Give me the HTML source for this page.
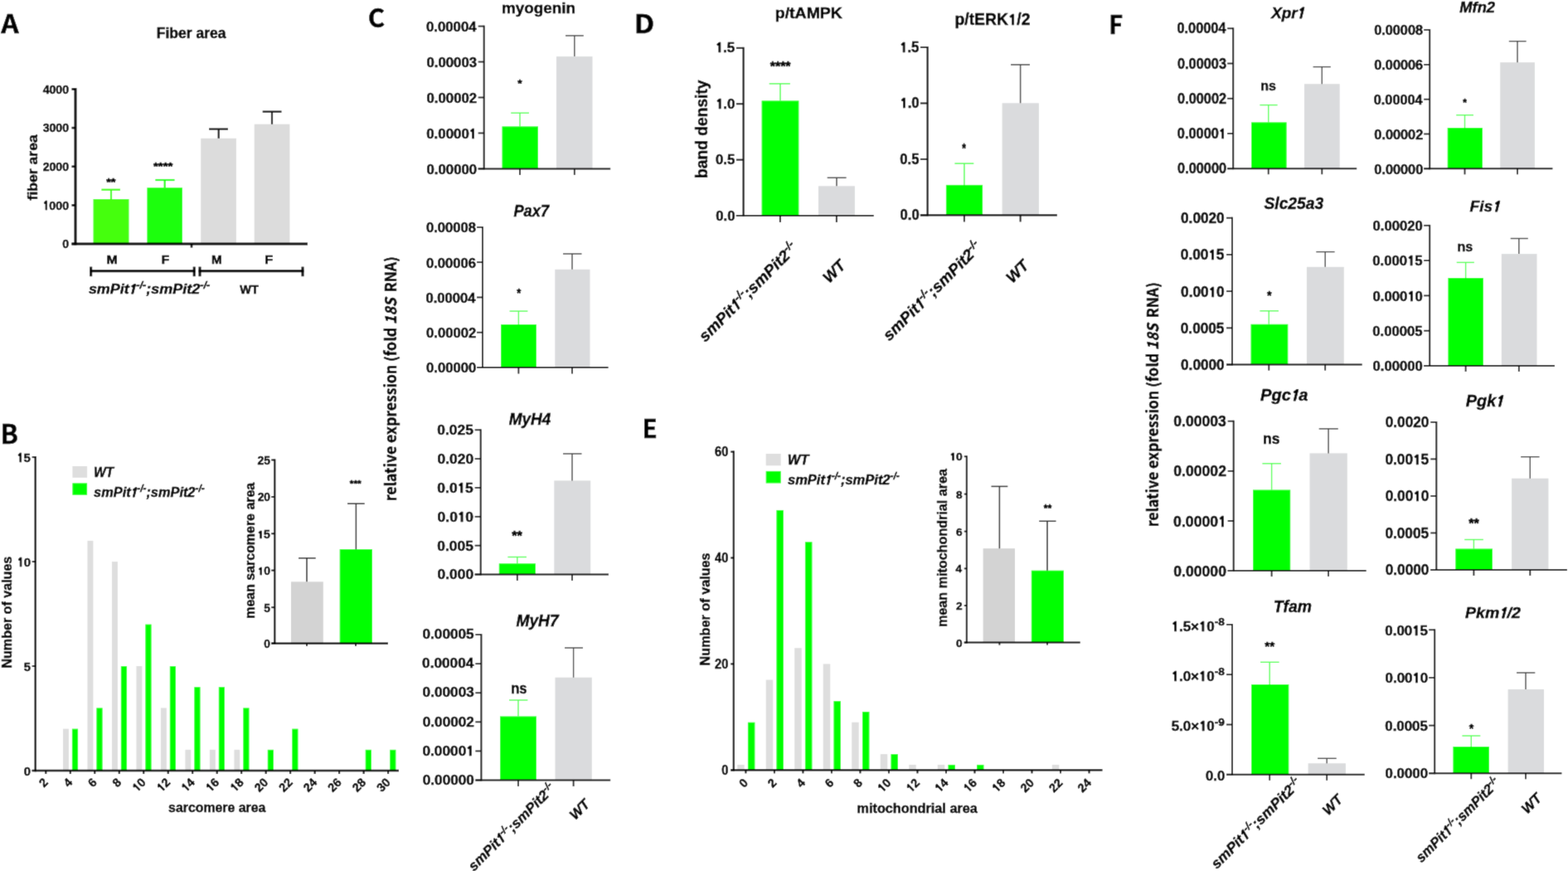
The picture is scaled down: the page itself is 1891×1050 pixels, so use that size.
<!DOCTYPE html>
<html><head><meta charset="utf-8"><style>
html,body{margin:0;padding:0;background:#fff;}
svg{display:block;}
text{font-family:'Liberation Sans',Arial,Helvetica,sans-serif;stroke:#000;stroke-width:0.45px;}
</style></head><body>
<svg width="1891" height="1050" viewBox="0 0 1891 1050">
<defs><filter id="soft" x="-0.01" y="-0.01" width="1.02" height="1.02"><feConvolveMatrix order="3" kernelMatrix="0.0114 0.0841 0.0114 0.0841 0.618 0.0841 0.0114 0.0841 0.0114" divisor="1" edgeMode="duplicate" preserveAlpha="true"/></filter></defs>
<rect width="1891" height="1050" fill="#fff"/>
<g filter="url(#soft)">
<rect x="-20" y="-20" width="1931" height="1090" fill="#fff"/>
<text x="1.37" y="40.25" style="font-size:31.49px;font-weight:bold;font-style:normal;font-family:'Noto Sans CJK JP',sans-serif" fill="#000" textLength="21.45" lengthAdjust="spacingAndGlyphs">A</text>
<text x="188.71" y="45.87" style="font-size:18.1px;font-weight:bold;font-style:normal" fill="#000" textLength="83.77" lengthAdjust="spacingAndGlyphs">Fiber area</text>
<rect x="112.5" y="240" width="43" height="54" fill="#44FF10"/>
<rect x="177.4" y="226.2" width="42.6" height="67.8" fill="#1CFF0A"/>
<rect x="242.2" y="166.8" width="42.7" height="127.2" fill="#DCDCDC"/>
<rect x="306.7" y="149.7" width="42.7" height="144.3" fill="#DCDCDC"/>
<line x1="134" y1="240" x2="134" y2="228.7" stroke="#44FF10" stroke-width="2.2" stroke-linecap="butt"/>
<line x1="122.4" y1="228.7" x2="145" y2="228.7" stroke="#44FF10" stroke-width="2.2" stroke-linecap="butt"/>
<line x1="198.7" y1="226.2" x2="198.7" y2="217" stroke="#1CFF0A" stroke-width="2.2" stroke-linecap="butt"/>
<line x1="187.4" y1="217" x2="210.5" y2="217" stroke="#1CFF0A" stroke-width="2.2" stroke-linecap="butt"/>
<line x1="263.7" y1="166.8" x2="263.7" y2="155.6" stroke="#111" stroke-width="2.2" stroke-linecap="butt"/>
<line x1="252" y1="155.6" x2="275" y2="155.6" stroke="#111" stroke-width="2.2" stroke-linecap="butt"/>
<line x1="328" y1="149.7" x2="328" y2="134.6" stroke="#111" stroke-width="2.2" stroke-linecap="butt"/>
<line x1="316.7" y1="134.6" x2="339.5" y2="134.6" stroke="#111" stroke-width="2.2" stroke-linecap="butt"/>
<line x1="91" y1="106.2" x2="91" y2="295.5" stroke="#000" stroke-width="3" stroke-linecap="butt"/>
<line x1="86.5" y1="107.5" x2="91" y2="107.5" stroke="#000" stroke-width="2.6" stroke-linecap="butt"/>
<line x1="86.5" y1="154.1" x2="91" y2="154.1" stroke="#000" stroke-width="2.6" stroke-linecap="butt"/>
<line x1="86.5" y1="200.8" x2="91" y2="200.8" stroke="#000" stroke-width="2.6" stroke-linecap="butt"/>
<line x1="86.5" y1="247.4" x2="91" y2="247.4" stroke="#000" stroke-width="2.6" stroke-linecap="butt"/>
<line x1="86.5" y1="294" x2="91" y2="294" stroke="#000" stroke-width="2.6" stroke-linecap="butt"/>
<line x1="86.5" y1="294" x2="371" y2="294" stroke="#000" stroke-width="3" stroke-linecap="butt"/>
<line x1="231" y1="294" x2="231" y2="298.5" stroke="#000" stroke-width="2.6" stroke-linecap="butt"/>
<text x="51.64" y="112.6" text-anchor="start" style="font-size:15.35px;font-weight:bold;font-style:normal" fill="#000" textLength="31.47" lengthAdjust="spacingAndGlyphs">4000</text>
<text x="51.64" y="159.2" text-anchor="start" style="font-size:15.35px;font-weight:bold;font-style:normal" fill="#000" textLength="31.47" lengthAdjust="spacingAndGlyphs">3000</text>
<text x="51.64" y="205.9" text-anchor="start" style="font-size:15.35px;font-weight:bold;font-style:normal" fill="#000" textLength="31.47" lengthAdjust="spacingAndGlyphs">2000</text>
<text x="51.64" y="252.5" text-anchor="start" style="font-size:15.35px;font-weight:bold;font-style:normal" fill="#000" textLength="31.47" lengthAdjust="spacingAndGlyphs"><tspan style="font-family:NanumGothic,sans-serif;font-weight:800;font-size:0.89em;stroke-width:0.7px">1</tspan>000</text>
<text x="75.26" y="299.1" text-anchor="start" style="font-size:15.35px;font-weight:bold;font-style:normal" fill="#000" textLength="7.87" lengthAdjust="spacingAndGlyphs">0</text>
<text transform="translate(45.08,241.41) rotate(-90)" style="font-size:16.87px;font-weight:bold;font-style:normal" fill="#000" textLength="79.13" lengthAdjust="spacingAndGlyphs">fiber area</text>
<text x="128.18" y="223.64" style="font-size:12.16px;font-weight:bold;font-style:normal;stroke-width:0.55px" fill="#000" textLength="11.32" lengthAdjust="spacingAndGlyphs">**</text>
<text x="184.97" y="204.64" style="font-size:12.16px;font-weight:bold;font-style:normal;stroke-width:0.55px" fill="#000" textLength="23.37" lengthAdjust="spacingAndGlyphs">****</text>
<text x="128.51" y="317.75" style="font-size:14.06px;font-weight:bold;font-style:normal" fill="#000" textLength="13.33" lengthAdjust="spacingAndGlyphs">M</text>
<text x="194.74" y="317.75" style="font-size:14.06px;font-weight:bold;font-style:normal" fill="#000" textLength="9.46" lengthAdjust="spacingAndGlyphs">F</text>
<text x="255.06" y="317.75" style="font-size:14.06px;font-weight:bold;font-style:normal" fill="#000" textLength="12.73" lengthAdjust="spacingAndGlyphs">M</text>
<text x="319.19" y="317.75" style="font-size:14.06px;font-weight:bold;font-style:normal" fill="#000" textLength="9.94" lengthAdjust="spacingAndGlyphs">F</text>
<line x1="108.2" y1="326.8" x2="235.6" y2="326.8" stroke="#000" stroke-width="3" stroke-linecap="butt"/>
<line x1="109.7" y1="321.6" x2="109.7" y2="333.2" stroke="#000" stroke-width="3" stroke-linecap="butt"/>
<line x1="234.2" y1="321.6" x2="234.2" y2="333.2" stroke="#000" stroke-width="3" stroke-linecap="butt"/>
<line x1="239.5" y1="326.8" x2="366.4" y2="326.8" stroke="#000" stroke-width="3" stroke-linecap="butt"/>
<line x1="241" y1="321.6" x2="241" y2="333.2" stroke="#000" stroke-width="3" stroke-linecap="butt"/>
<line x1="365" y1="321.6" x2="365" y2="333.2" stroke="#000" stroke-width="3" stroke-linecap="butt"/>
<text x="106.9" y="354.2" text-anchor="start" style="font-size:17px;font-weight:bold;font-style:italic" fill="#000" textLength="146.5" lengthAdjust="spacingAndGlyphs">smPit<tspan dx="-1.19" style="font-family:NanumGothic,sans-serif;font-weight:800;font-size:0.89em;stroke-width:0.7px">1</tspan><tspan dy="-6.29" style="font-size:12.24px">-/-</tspan><tspan dy="6.29">;smPit2</tspan><tspan dy="-6.29" style="font-size:12.24px">-/-</tspan></text>
<text x="289.25" y="354.35" style="font-size:15.36px;font-weight:bold;font-style:normal" fill="#000" textLength="22.64" lengthAdjust="spacingAndGlyphs">WT</text>
<text x="0.42" y="535.35" style="font-size:31.76px;font-weight:bold;font-style:normal;font-family:'Noto Sans CJK JP',sans-serif" fill="#000" textLength="21.42" lengthAdjust="spacingAndGlyphs">B</text>
<rect x="75.99" y="878.61" width="6.9" height="50.39" fill="#DEDEDE"/>
<rect x="105.47" y="651.87" width="6.9" height="277.13" fill="#DEDEDE"/>
<rect x="134.96" y="677.07" width="6.9" height="251.93" fill="#DEDEDE"/>
<rect x="164.44" y="803.03" width="6.9" height="125.97" fill="#DEDEDE"/>
<rect x="193.93" y="853.42" width="6.9" height="75.58" fill="#DEDEDE"/>
<rect x="223.41" y="903.81" width="6.9" height="25.19" fill="#DEDEDE"/>
<rect x="252.9" y="903.81" width="6.9" height="25.19" fill="#DEDEDE"/>
<rect x="282.39" y="903.81" width="6.9" height="25.19" fill="#DEDEDE"/>
<rect x="86.89" y="878.61" width="7.2" height="50.39" fill="#00FF00"/>
<rect x="116.37" y="853.42" width="7.2" height="75.58" fill="#00FF00"/>
<rect x="145.86" y="803.03" width="7.2" height="125.97" fill="#00FF00"/>
<rect x="175.34" y="752.65" width="7.2" height="176.35" fill="#00FF00"/>
<rect x="204.83" y="803.03" width="7.2" height="125.97" fill="#00FF00"/>
<rect x="234.31" y="828.23" width="7.2" height="100.77" fill="#00FF00"/>
<rect x="263.8" y="828.23" width="7.2" height="100.77" fill="#00FF00"/>
<rect x="293.29" y="853.42" width="7.2" height="75.58" fill="#00FF00"/>
<rect x="322.77" y="903.81" width="7.2" height="25.19" fill="#00FF00"/>
<rect x="352.26" y="878.61" width="7.2" height="50.39" fill="#00FF00"/>
<rect x="440.71" y="903.81" width="7.2" height="25.19" fill="#00FF00"/>
<rect x="470.2" y="903.81" width="7.2" height="25.19" fill="#00FF00"/>
<line x1="42.7" y1="550.1" x2="42.7" y2="930.15" stroke="#000" stroke-width="2.3" stroke-linecap="butt"/>
<line x1="38.7" y1="551.1" x2="42.7" y2="551.1" stroke="#000" stroke-width="2" stroke-linecap="butt"/>
<line x1="38.7" y1="677.07" x2="42.7" y2="677.07" stroke="#000" stroke-width="2" stroke-linecap="butt"/>
<line x1="38.7" y1="803.03" x2="42.7" y2="803.03" stroke="#000" stroke-width="2" stroke-linecap="butt"/>
<line x1="38.7" y1="929" x2="42.7" y2="929" stroke="#000" stroke-width="2" stroke-linecap="butt"/>
<line x1="38.7" y1="929" x2="481" y2="929" stroke="#000" stroke-width="2.3" stroke-linecap="butt"/>
<line x1="55.3" y1="929" x2="55.3" y2="933" stroke="#000" stroke-width="2" stroke-linecap="butt"/>
<line x1="84.79" y1="929" x2="84.79" y2="933" stroke="#000" stroke-width="2" stroke-linecap="butt"/>
<line x1="114.27" y1="929" x2="114.27" y2="933" stroke="#000" stroke-width="2" stroke-linecap="butt"/>
<line x1="143.76" y1="929" x2="143.76" y2="933" stroke="#000" stroke-width="2" stroke-linecap="butt"/>
<line x1="173.24" y1="929" x2="173.24" y2="933" stroke="#000" stroke-width="2" stroke-linecap="butt"/>
<line x1="202.73" y1="929" x2="202.73" y2="933" stroke="#000" stroke-width="2" stroke-linecap="butt"/>
<line x1="232.21" y1="929" x2="232.21" y2="933" stroke="#000" stroke-width="2" stroke-linecap="butt"/>
<line x1="261.7" y1="929" x2="261.7" y2="933" stroke="#000" stroke-width="2" stroke-linecap="butt"/>
<line x1="291.19" y1="929" x2="291.19" y2="933" stroke="#000" stroke-width="2" stroke-linecap="butt"/>
<line x1="320.67" y1="929" x2="320.67" y2="933" stroke="#000" stroke-width="2" stroke-linecap="butt"/>
<line x1="350.16" y1="929" x2="350.16" y2="933" stroke="#000" stroke-width="2" stroke-linecap="butt"/>
<line x1="379.64" y1="929" x2="379.64" y2="933" stroke="#000" stroke-width="2" stroke-linecap="butt"/>
<line x1="409.13" y1="929" x2="409.13" y2="933" stroke="#000" stroke-width="2" stroke-linecap="butt"/>
<line x1="438.61" y1="929" x2="438.61" y2="933" stroke="#000" stroke-width="2" stroke-linecap="butt"/>
<line x1="468.1" y1="929" x2="468.1" y2="933" stroke="#000" stroke-width="2" stroke-linecap="butt"/>
<text x="20.47" y="556.6" text-anchor="start" style="font-size:15px;font-weight:bold;font-style:normal" fill="#000" textLength="16.39" lengthAdjust="spacingAndGlyphs"><tspan style="font-family:NanumGothic,sans-serif;font-weight:800;font-size:0.89em;stroke-width:0.7px">1</tspan>5</text>
<text x="20.69" y="682.57" text-anchor="start" style="font-size:15px;font-weight:bold;font-style:normal" fill="#000" textLength="16.39" lengthAdjust="spacingAndGlyphs"><tspan style="font-family:NanumGothic,sans-serif;font-weight:800;font-size:0.89em;stroke-width:0.7px">1</tspan>0</text>
<text x="28.64" y="808.53" text-anchor="start" style="font-size:15px;font-weight:bold;font-style:normal" fill="#000" textLength="8.19" lengthAdjust="spacingAndGlyphs">5</text>
<text x="28.86" y="934.5" text-anchor="start" style="font-size:15px;font-weight:bold;font-style:normal" fill="#000" textLength="8.19" lengthAdjust="spacingAndGlyphs">0</text>
<text x="58.8" y="944" text-anchor="end" transform="rotate(-45 58.8 944)" style="font-size:14.5px;font-weight:bold;font-style:normal" fill="#000">2</text>
<text x="88.29" y="944" text-anchor="end" transform="rotate(-45 88.29 944)" style="font-size:14.5px;font-weight:bold;font-style:normal" fill="#000">4</text>
<text x="117.77" y="944" text-anchor="end" transform="rotate(-45 117.77 944)" style="font-size:14.5px;font-weight:bold;font-style:normal" fill="#000">6</text>
<text x="147.26" y="944" text-anchor="end" transform="rotate(-45 147.26 944)" style="font-size:14.5px;font-weight:bold;font-style:normal" fill="#000">8</text>
<text x="176.74" y="944" text-anchor="end" transform="rotate(-45 176.74 944)" style="font-size:14.5px;font-weight:bold;font-style:normal" fill="#000"><tspan style="font-family:NanumGothic,sans-serif;font-weight:800;font-size:0.89em;stroke-width:0.7px">1</tspan>0</text>
<text x="206.23" y="944" text-anchor="end" transform="rotate(-45 206.23 944)" style="font-size:14.5px;font-weight:bold;font-style:normal" fill="#000"><tspan style="font-family:NanumGothic,sans-serif;font-weight:800;font-size:0.89em;stroke-width:0.7px">1</tspan>2</text>
<text x="235.71" y="944" text-anchor="end" transform="rotate(-45 235.71 944)" style="font-size:14.5px;font-weight:bold;font-style:normal" fill="#000"><tspan style="font-family:NanumGothic,sans-serif;font-weight:800;font-size:0.89em;stroke-width:0.7px">1</tspan>4</text>
<text x="265.2" y="944" text-anchor="end" transform="rotate(-45 265.2 944)" style="font-size:14.5px;font-weight:bold;font-style:normal" fill="#000"><tspan style="font-family:NanumGothic,sans-serif;font-weight:800;font-size:0.89em;stroke-width:0.7px">1</tspan>6</text>
<text x="294.69" y="944" text-anchor="end" transform="rotate(-45 294.69 944)" style="font-size:14.5px;font-weight:bold;font-style:normal" fill="#000"><tspan style="font-family:NanumGothic,sans-serif;font-weight:800;font-size:0.89em;stroke-width:0.7px">1</tspan>8</text>
<text x="324.17" y="944" text-anchor="end" transform="rotate(-45 324.17 944)" style="font-size:14.5px;font-weight:bold;font-style:normal" fill="#000">20</text>
<text x="353.66" y="944" text-anchor="end" transform="rotate(-45 353.66 944)" style="font-size:14.5px;font-weight:bold;font-style:normal" fill="#000">22</text>
<text x="383.14" y="944" text-anchor="end" transform="rotate(-45 383.14 944)" style="font-size:14.5px;font-weight:bold;font-style:normal" fill="#000">24</text>
<text x="412.63" y="944" text-anchor="end" transform="rotate(-45 412.63 944)" style="font-size:14.5px;font-weight:bold;font-style:normal" fill="#000">26</text>
<text x="442.11" y="944" text-anchor="end" transform="rotate(-45 442.11 944)" style="font-size:14.5px;font-weight:bold;font-style:normal" fill="#000">28</text>
<text x="471.6" y="944" text-anchor="end" transform="rotate(-45 471.6 944)" style="font-size:14.5px;font-weight:bold;font-style:normal" fill="#000">30</text>
<text x="203.1" y="979.18" style="font-size:16.91px;font-weight:bold;font-style:normal" fill="#000" textLength="117.19" lengthAdjust="spacingAndGlyphs">sarcomere area</text>
<text transform="translate(13.99,805.6) rotate(-90)" style="font-size:15.65px;font-weight:bold;font-style:normal" fill="#000" textLength="134.91" lengthAdjust="spacingAndGlyphs">Number of values</text>
<rect x="87.4" y="562" width="17.7" height="13.8" fill="#DEDEDE"/>
<rect x="87.4" y="582.4" width="17.7" height="14.3" fill="#00FF00"/>
<text x="112.88" y="574.85" style="font-size:16.23px;font-weight:bold;font-style:italic" fill="#000" textLength="24.27" lengthAdjust="spacingAndGlyphs">WT</text>
<text x="113.1" y="598.8" text-anchor="start" style="font-size:16.5px;font-weight:bold;font-style:italic" fill="#000" textLength="133.5" lengthAdjust="spacingAndGlyphs">smPit<tspan dx="-1.16" style="font-family:NanumGothic,sans-serif;font-weight:800;font-size:0.89em;stroke-width:0.7px">1</tspan><tspan dy="-6.1" style="font-size:11.88px">-/-</tspan><tspan dy="6.1">;smPit2</tspan><tspan dy="-6.1" style="font-size:11.88px">-/-</tspan></text>
<rect x="351" y="701.3" width="38.8" height="74.3" fill="#D3D3D3"/>
<rect x="409.7" y="662.1" width="39.3" height="113.5" fill="#00FF00"/>
<line x1="370" y1="701.3" x2="370" y2="672.8" stroke="#222" stroke-width="1.5" stroke-linecap="butt"/>
<line x1="360" y1="672.8" x2="380.7" y2="672.8" stroke="#222" stroke-width="1.5" stroke-linecap="butt"/>
<line x1="429.4" y1="662.1" x2="429.4" y2="607.2" stroke="#222" stroke-width="1.5" stroke-linecap="butt"/>
<line x1="419" y1="607.2" x2="439.7" y2="607.2" stroke="#222" stroke-width="1.5" stroke-linecap="butt"/>
<line x1="331.3" y1="553.5" x2="331.3" y2="776.7" stroke="#000" stroke-width="2.2" stroke-linecap="butt"/>
<line x1="327.3" y1="554.5" x2="331.3" y2="554.5" stroke="#000" stroke-width="2" stroke-linecap="butt"/>
<line x1="327.3" y1="599" x2="331.3" y2="599" stroke="#000" stroke-width="2" stroke-linecap="butt"/>
<line x1="327.3" y1="643.3" x2="331.3" y2="643.3" stroke="#000" stroke-width="2" stroke-linecap="butt"/>
<line x1="327.3" y1="687.6" x2="331.3" y2="687.6" stroke="#000" stroke-width="2" stroke-linecap="butt"/>
<line x1="327.3" y1="732.2" x2="331.3" y2="732.2" stroke="#000" stroke-width="2" stroke-linecap="butt"/>
<line x1="327.3" y1="775.6" x2="331.3" y2="775.6" stroke="#000" stroke-width="2" stroke-linecap="butt"/>
<line x1="327.3" y1="775.6" x2="468" y2="775.6" stroke="#000" stroke-width="2.2" stroke-linecap="butt"/>
<line x1="370" y1="775.6" x2="370" y2="779.1" stroke="#000" stroke-width="2" stroke-linecap="butt"/>
<line x1="429" y1="775.6" x2="429" y2="779.1" stroke="#000" stroke-width="2" stroke-linecap="butt"/>
<text x="310.47" y="559.81" text-anchor="start" style="font-size:14.08px;font-weight:bold;font-style:normal" fill="#000" textLength="15.36" lengthAdjust="spacingAndGlyphs">25</text>
<text x="310.67" y="604.31" text-anchor="start" style="font-size:14.08px;font-weight:bold;font-style:normal" fill="#000" textLength="15.36" lengthAdjust="spacingAndGlyphs">20</text>
<text x="310.47" y="648.61" text-anchor="start" style="font-size:14.08px;font-weight:bold;font-style:normal" fill="#000" textLength="15.36" lengthAdjust="spacingAndGlyphs"><tspan style="font-family:NanumGothic,sans-serif;font-weight:800;font-size:0.89em;stroke-width:0.7px">1</tspan>5</text>
<text x="310.67" y="692.91" text-anchor="start" style="font-size:14.08px;font-weight:bold;font-style:normal" fill="#000" textLength="15.36" lengthAdjust="spacingAndGlyphs"><tspan style="font-family:NanumGothic,sans-serif;font-weight:800;font-size:0.89em;stroke-width:0.7px">1</tspan>0</text>
<text x="318.13" y="737.51" text-anchor="start" style="font-size:14.08px;font-weight:bold;font-style:normal" fill="#000" textLength="7.68" lengthAdjust="spacingAndGlyphs">5</text>
<text x="318.34" y="780.91" text-anchor="start" style="font-size:14.08px;font-weight:bold;font-style:normal" fill="#000" textLength="7.68" lengthAdjust="spacingAndGlyphs">0</text>
<text x="421.89" y="586.85" style="font-size:10px;font-weight:bold;font-style:normal;stroke-width:0.55px" fill="#000" textLength="13.89" lengthAdjust="spacingAndGlyphs">***</text>
<text transform="translate(306.79,745.69) rotate(-90)" style="font-size:16px;font-weight:bold;font-style:normal" fill="#000" textLength="163.87" lengthAdjust="spacingAndGlyphs">mean sarcomere area</text>
<text x="443.74" y="33.29" style="font-size:30.78px;font-weight:bold;font-style:normal;font-family:'Noto Sans CJK JP',sans-serif" fill="#000" textLength="20.42" lengthAdjust="spacingAndGlyphs">C</text>
<rect x="605.5" y="152.4" width="43.5" height="51" fill="#00FF00"/>
<rect x="671" y="68.1" width="43.5" height="135.3" fill="#DADBDD"/>
<line x1="627" y1="152.4" x2="627" y2="136.2" stroke="#55FF55" stroke-width="1.4" stroke-linecap="butt"/>
<line x1="616.2" y1="136.2" x2="638" y2="136.2" stroke="#55FF55" stroke-width="1.4" stroke-linecap="butt"/>
<line x1="692.8" y1="68.1" x2="692.8" y2="43" stroke="#444444" stroke-width="1.4" stroke-linecap="butt"/>
<line x1="682" y1="43" x2="703.8" y2="43" stroke="#444444" stroke-width="1.4" stroke-linecap="butt"/>
<line x1="583.7" y1="30.7" x2="583.7" y2="204.4" stroke="#111" stroke-width="2" stroke-linecap="butt"/>
<line x1="576.7" y1="31.6" x2="583.7" y2="31.6" stroke="#111" stroke-width="1.8" stroke-linecap="butt"/>
<line x1="576.7" y1="74.55" x2="583.7" y2="74.55" stroke="#111" stroke-width="1.8" stroke-linecap="butt"/>
<line x1="576.7" y1="117.5" x2="583.7" y2="117.5" stroke="#111" stroke-width="1.8" stroke-linecap="butt"/>
<line x1="576.7" y1="160.45" x2="583.7" y2="160.45" stroke="#111" stroke-width="1.8" stroke-linecap="butt"/>
<line x1="576.7" y1="203.4" x2="583.7" y2="203.4" stroke="#111" stroke-width="1.8" stroke-linecap="butt"/>
<line x1="576.7" y1="203.4" x2="736.2" y2="203.4" stroke="#111" stroke-width="2" stroke-linecap="butt"/>
<line x1="627" y1="203.4" x2="627" y2="210.9" stroke="#111" stroke-width="1.8" stroke-linecap="butt"/>
<line x1="692.8" y1="203.4" x2="692.8" y2="210.9" stroke="#111" stroke-width="1.8" stroke-linecap="butt"/>
<text x="513.88" y="37.98" text-anchor="start" style="font-size:17.18px;font-weight:bold;font-style:normal" fill="#000" textLength="60.75" lengthAdjust="spacingAndGlyphs">0.00004</text>
<text x="514.38" y="80.93" text-anchor="start" style="font-size:17.18px;font-weight:bold;font-style:normal" fill="#000" textLength="60.75" lengthAdjust="spacingAndGlyphs">0.00003</text>
<text x="514.47" y="123.88" text-anchor="start" style="font-size:17.18px;font-weight:bold;font-style:normal" fill="#000" textLength="60.75" lengthAdjust="spacingAndGlyphs">0.00002</text>
<text x="514.21" y="166.83" text-anchor="start" style="font-size:17.18px;font-weight:bold;font-style:normal" fill="#000" textLength="60.75" lengthAdjust="spacingAndGlyphs">0.0000<tspan style="font-family:NanumGothic,sans-serif;font-weight:800;font-size:0.89em;stroke-width:0.7px">1</tspan></text>
<text x="514.47" y="209.78" text-anchor="start" style="font-size:17.18px;font-weight:bold;font-style:normal" fill="#000" textLength="60.75" lengthAdjust="spacingAndGlyphs">0.00000</text>
<text x="624.18" y="104.57" style="font-size:13.51px;font-weight:bold;font-style:normal;stroke-width:0.55px" fill="#000" textLength="5.33" lengthAdjust="spacingAndGlyphs">*</text>
<text x="604.92" y="15.8" style="font-size:18.82px;font-weight:bold;font-style:normal" fill="#000" textLength="89.11" lengthAdjust="spacingAndGlyphs">myogenin</text>
<rect x="604" y="391.1" width="43" height="51.9" fill="#00FF00"/>
<rect x="669.3" y="324.8" width="42.2" height="118.2" fill="#DADBDD"/>
<line x1="625.4" y1="391.1" x2="625.4" y2="375.1" stroke="#55FF55" stroke-width="1.4" stroke-linecap="butt"/>
<line x1="614.6" y1="375.1" x2="636.4" y2="375.1" stroke="#55FF55" stroke-width="1.4" stroke-linecap="butt"/>
<line x1="690" y1="324.8" x2="690" y2="306" stroke="#444444" stroke-width="1.4" stroke-linecap="butt"/>
<line x1="679" y1="306" x2="701.5" y2="306" stroke="#444444" stroke-width="1.4" stroke-linecap="butt"/>
<line x1="582" y1="273" x2="582" y2="444" stroke="#111" stroke-width="2" stroke-linecap="butt"/>
<line x1="575" y1="273.9" x2="582" y2="273.9" stroke="#111" stroke-width="1.8" stroke-linecap="butt"/>
<line x1="575" y1="316.17" x2="582" y2="316.17" stroke="#111" stroke-width="1.8" stroke-linecap="butt"/>
<line x1="575" y1="358.45" x2="582" y2="358.45" stroke="#111" stroke-width="1.8" stroke-linecap="butt"/>
<line x1="575" y1="400.73" x2="582" y2="400.73" stroke="#111" stroke-width="1.8" stroke-linecap="butt"/>
<line x1="575" y1="443" x2="582" y2="443" stroke="#111" stroke-width="1.8" stroke-linecap="butt"/>
<line x1="575" y1="443" x2="733.5" y2="443" stroke="#111" stroke-width="2" stroke-linecap="butt"/>
<line x1="625.4" y1="443" x2="625.4" y2="450.5" stroke="#111" stroke-width="1.8" stroke-linecap="butt"/>
<line x1="690" y1="443" x2="690" y2="450.5" stroke="#111" stroke-width="1.8" stroke-linecap="butt"/>
<text x="513.88" y="280.28" text-anchor="start" style="font-size:17.18px;font-weight:bold;font-style:normal" fill="#000" textLength="60.16" lengthAdjust="spacingAndGlyphs">0.00008</text>
<text x="513.97" y="322.55" text-anchor="start" style="font-size:17.18px;font-weight:bold;font-style:normal" fill="#000" textLength="60.16" lengthAdjust="spacingAndGlyphs">0.00006</text>
<text x="513.47" y="364.83" text-anchor="start" style="font-size:17.18px;font-weight:bold;font-style:normal" fill="#000" textLength="60.16" lengthAdjust="spacingAndGlyphs">0.00004</text>
<text x="514.05" y="407.1" text-anchor="start" style="font-size:17.18px;font-weight:bold;font-style:normal" fill="#000" textLength="60.16" lengthAdjust="spacingAndGlyphs">0.00002</text>
<text x="514.05" y="449.38" text-anchor="start" style="font-size:17.18px;font-weight:bold;font-style:normal" fill="#000" textLength="60.16" lengthAdjust="spacingAndGlyphs">0.00000</text>
<text x="623.19" y="357.65" style="font-size:14.05px;font-weight:bold;font-style:normal;stroke-width:0.55px" fill="#000" textLength="5.02" lengthAdjust="spacingAndGlyphs">*</text>
<text x="619.38" y="261.25" style="font-size:19.71px;font-weight:bold;font-style:italic" fill="#000" textLength="42.74" lengthAdjust="spacingAndGlyphs">Pax7</text>
<rect x="601.8" y="679.3" width="44.2" height="13.2" fill="#00FF00"/>
<rect x="668.3" y="579.4" width="43.9" height="113.1" fill="#DADBDD"/>
<line x1="623.8" y1="679.3" x2="623.8" y2="671.5" stroke="#55FF55" stroke-width="1.4" stroke-linecap="butt"/>
<line x1="612.4" y1="671.5" x2="635" y2="671.5" stroke="#55FF55" stroke-width="1.4" stroke-linecap="butt"/>
<line x1="690" y1="579.4" x2="690" y2="547" stroke="#444444" stroke-width="1.4" stroke-linecap="butt"/>
<line x1="679" y1="547" x2="701.5" y2="547" stroke="#444444" stroke-width="1.4" stroke-linecap="butt"/>
<line x1="579.7" y1="517.4" x2="579.7" y2="693.5" stroke="#111" stroke-width="2" stroke-linecap="butt"/>
<line x1="572.7" y1="518.3" x2="579.7" y2="518.3" stroke="#111" stroke-width="1.8" stroke-linecap="butt"/>
<line x1="572.7" y1="553.14" x2="579.7" y2="553.14" stroke="#111" stroke-width="1.8" stroke-linecap="butt"/>
<line x1="572.7" y1="587.98" x2="579.7" y2="587.98" stroke="#111" stroke-width="1.8" stroke-linecap="butt"/>
<line x1="572.7" y1="622.82" x2="579.7" y2="622.82" stroke="#111" stroke-width="1.8" stroke-linecap="butt"/>
<line x1="572.7" y1="657.66" x2="579.7" y2="657.66" stroke="#111" stroke-width="1.8" stroke-linecap="butt"/>
<line x1="572.7" y1="692.5" x2="579.7" y2="692.5" stroke="#111" stroke-width="1.8" stroke-linecap="butt"/>
<line x1="572.7" y1="692.5" x2="734" y2="692.5" stroke="#111" stroke-width="2" stroke-linecap="butt"/>
<line x1="623.8" y1="692.5" x2="623.8" y2="700" stroke="#111" stroke-width="1.8" stroke-linecap="butt"/>
<line x1="690" y1="692.5" x2="690" y2="700" stroke="#111" stroke-width="1.8" stroke-linecap="butt"/>
<text x="527.36" y="524.18" text-anchor="start" style="font-size:17.18px;font-weight:bold;font-style:normal" fill="#000" textLength="43.47" lengthAdjust="spacingAndGlyphs">0.025</text>
<text x="527.62" y="559.02" text-anchor="start" style="font-size:17.18px;font-weight:bold;font-style:normal" fill="#000" textLength="43.47" lengthAdjust="spacingAndGlyphs">0.020</text>
<text x="527.36" y="593.86" text-anchor="start" style="font-size:17.18px;font-weight:bold;font-style:normal" fill="#000" textLength="43.47" lengthAdjust="spacingAndGlyphs">0.0<tspan style="font-family:NanumGothic,sans-serif;font-weight:800;font-size:0.89em;stroke-width:0.7px">1</tspan>5</text>
<text x="527.62" y="628.7" text-anchor="start" style="font-size:17.18px;font-weight:bold;font-style:normal" fill="#000" textLength="43.47" lengthAdjust="spacingAndGlyphs">0.0<tspan style="font-family:NanumGothic,sans-serif;font-weight:800;font-size:0.89em;stroke-width:0.7px">1</tspan>0</text>
<text x="527.36" y="663.54" text-anchor="start" style="font-size:17.18px;font-weight:bold;font-style:normal" fill="#000" textLength="43.47" lengthAdjust="spacingAndGlyphs">0.005</text>
<text x="527.62" y="698.38" text-anchor="start" style="font-size:17.18px;font-weight:bold;font-style:normal" fill="#000" textLength="43.47" lengthAdjust="spacingAndGlyphs">0.000</text>
<text x="617.17" y="652" style="font-size:17.03px;font-weight:bold;font-style:normal;stroke-width:0.55px" fill="#000" textLength="12.63" lengthAdjust="spacingAndGlyphs">**</text>
<text x="613.77" y="511.75" style="font-size:20.43px;font-weight:bold;font-style:italic" fill="#000" textLength="50.61" lengthAdjust="spacingAndGlyphs">MyH4</text>
<rect x="603" y="863.5" width="44" height="77" fill="#00FF00"/>
<rect x="669.5" y="816.7" width="44.3" height="123.8" fill="#DADBDD"/>
<line x1="625" y1="863.5" x2="625" y2="844" stroke="#55FF55" stroke-width="1.4" stroke-linecap="butt"/>
<line x1="614" y1="844" x2="636.4" y2="844" stroke="#55FF55" stroke-width="1.4" stroke-linecap="butt"/>
<line x1="691.6" y1="816.7" x2="691.6" y2="781" stroke="#444444" stroke-width="1.4" stroke-linecap="butt"/>
<line x1="681" y1="781" x2="703" y2="781" stroke="#444444" stroke-width="1.4" stroke-linecap="butt"/>
<line x1="580.4" y1="764.2" x2="580.4" y2="941.5" stroke="#111" stroke-width="2" stroke-linecap="butt"/>
<line x1="573.4" y1="765.1" x2="580.4" y2="765.1" stroke="#111" stroke-width="1.8" stroke-linecap="butt"/>
<line x1="573.4" y1="800.18" x2="580.4" y2="800.18" stroke="#111" stroke-width="1.8" stroke-linecap="butt"/>
<line x1="573.4" y1="835.26" x2="580.4" y2="835.26" stroke="#111" stroke-width="1.8" stroke-linecap="butt"/>
<line x1="573.4" y1="870.34" x2="580.4" y2="870.34" stroke="#111" stroke-width="1.8" stroke-linecap="butt"/>
<line x1="573.4" y1="905.42" x2="580.4" y2="905.42" stroke="#111" stroke-width="1.8" stroke-linecap="butt"/>
<line x1="573.4" y1="940.5" x2="580.4" y2="940.5" stroke="#111" stroke-width="1.8" stroke-linecap="butt"/>
<line x1="573.4" y1="940.5" x2="736.2" y2="940.5" stroke="#111" stroke-width="2" stroke-linecap="butt"/>
<line x1="625" y1="940.5" x2="625" y2="948" stroke="#111" stroke-width="1.8" stroke-linecap="butt"/>
<line x1="691.6" y1="940.5" x2="691.6" y2="948" stroke="#111" stroke-width="1.8" stroke-linecap="butt"/>
<text x="509.46" y="770.28" text-anchor="start" style="font-size:17.04px;font-weight:bold;font-style:normal" fill="#000" textLength="62.22" lengthAdjust="spacingAndGlyphs">0.00005</text>
<text x="509.12" y="805.36" text-anchor="start" style="font-size:17.04px;font-weight:bold;font-style:normal" fill="#000" textLength="62.22" lengthAdjust="spacingAndGlyphs">0.00004</text>
<text x="509.63" y="840.44" text-anchor="start" style="font-size:17.04px;font-weight:bold;font-style:normal" fill="#000" textLength="62.22" lengthAdjust="spacingAndGlyphs">0.00003</text>
<text x="509.72" y="875.52" text-anchor="start" style="font-size:17.04px;font-weight:bold;font-style:normal" fill="#000" textLength="62.22" lengthAdjust="spacingAndGlyphs">0.00002</text>
<text x="509.46" y="910.6" text-anchor="start" style="font-size:17.04px;font-weight:bold;font-style:normal" fill="#000" textLength="62.22" lengthAdjust="spacingAndGlyphs">0.0000<tspan style="font-family:NanumGothic,sans-serif;font-weight:800;font-size:0.89em;stroke-width:0.7px">1</tspan></text>
<text x="509.72" y="945.68" text-anchor="start" style="font-size:17.04px;font-weight:bold;font-style:normal" fill="#000" textLength="62.22" lengthAdjust="spacingAndGlyphs">0.00000</text>
<text x="616.16" y="836.07" style="font-size:17.64px;font-weight:bold;font-style:normal" fill="#000" textLength="19.49" lengthAdjust="spacingAndGlyphs">ns</text>
<text x="622.47" y="754.95" style="font-size:20.29px;font-weight:bold;font-style:italic" fill="#000" textLength="51.17" lengthAdjust="spacingAndGlyphs">MyH7</text>
<text x="671" y="951.4" text-anchor="end" transform="rotate(-45 671 951.4)" style="font-size:17px;font-weight:bold;font-style:italic" fill="#000" textLength="140.7" lengthAdjust="spacingAndGlyphs">smPit<tspan dx="-1.19" style="font-family:NanumGothic,sans-serif;font-weight:800;font-size:0.89em;stroke-width:0.7px">1</tspan><tspan dy="-6.29" style="font-size:12.24px">-/-</tspan><tspan dy="6.29">;smPit2</tspan><tspan dy="-6.29" style="font-size:12.24px">-/-</tspan></text>
<text x="712.4" y="970.6" text-anchor="end" transform="rotate(-45 712.4 970.6)" style="font-size:17px;font-weight:bold;font-style:italic" fill="#000">WT</text>
<text transform="translate(477.6,604.2) rotate(-90)" style="font-size:18.5px;font-weight:bold;font-family:&quot;Noto Sans CJK JP&quot;,sans-serif" textLength="295" lengthAdjust="spacingAndGlyphs">relative expression (fold <tspan font-style="italic">18S</tspan><tspan dx="3"> RNA)</tspan></text>
<text x="764.66" y="40.25" style="font-size:31.49px;font-weight:bold;font-style:normal;font-family:'Noto Sans CJK JP',sans-serif" fill="#000" textLength="24.55" lengthAdjust="spacingAndGlyphs">D</text>
<rect x="918.6" y="121.4" width="44.8" height="138.6" fill="#00FF00"/>
<rect x="987" y="224.3" width="43.9" height="35.7" fill="#DADBDD"/>
<line x1="941" y1="121.4" x2="941" y2="100.9" stroke="#55FF55" stroke-width="1.5" stroke-linecap="butt"/>
<line x1="927.7" y1="100.9" x2="952.9" y2="100.9" stroke="#55FF55" stroke-width="1.5" stroke-linecap="butt"/>
<line x1="1009" y1="224.3" x2="1009" y2="214.3" stroke="#444444" stroke-width="1.5" stroke-linecap="butt"/>
<line x1="997.7" y1="214.3" x2="1020.6" y2="214.3" stroke="#444444" stroke-width="1.5" stroke-linecap="butt"/>
<line x1="896.6" y1="56.85" x2="896.6" y2="261.1" stroke="#111" stroke-width="2.2" stroke-linecap="butt"/>
<line x1="887.9" y1="57.85" x2="896.6" y2="57.85" stroke="#111" stroke-width="2" stroke-linecap="butt"/>
<line x1="887.9" y1="125.23" x2="896.6" y2="125.23" stroke="#111" stroke-width="2" stroke-linecap="butt"/>
<line x1="887.9" y1="192.62" x2="896.6" y2="192.62" stroke="#111" stroke-width="2" stroke-linecap="butt"/>
<line x1="887.9" y1="260" x2="896.6" y2="260" stroke="#111" stroke-width="2" stroke-linecap="butt"/>
<line x1="887.9" y1="260" x2="1053.7" y2="260" stroke="#111" stroke-width="2.2" stroke-linecap="butt"/>
<line x1="940.9" y1="260" x2="940.9" y2="268" stroke="#111" stroke-width="2" stroke-linecap="butt"/>
<line x1="1008.9" y1="260" x2="1008.9" y2="268" stroke="#111" stroke-width="2" stroke-linecap="butt"/>
<text x="862.94" y="63.48" text-anchor="start" style="font-size:17.29px;font-weight:bold;font-style:normal" fill="#000" textLength="23.33" lengthAdjust="spacingAndGlyphs"><tspan style="font-family:NanumGothic,sans-serif;font-weight:800;font-size:0.89em;stroke-width:0.7px">1</tspan>.5</text>
<text x="863.19" y="130.86" text-anchor="start" style="font-size:17.29px;font-weight:bold;font-style:normal" fill="#000" textLength="23.33" lengthAdjust="spacingAndGlyphs"><tspan style="font-family:NanumGothic,sans-serif;font-weight:800;font-size:0.89em;stroke-width:0.7px">1</tspan>.0</text>
<text x="862.94" y="198.24" text-anchor="start" style="font-size:17.29px;font-weight:bold;font-style:normal" fill="#000" textLength="23.33" lengthAdjust="spacingAndGlyphs">0.5</text>
<text x="863.19" y="265.63" text-anchor="start" style="font-size:17.29px;font-weight:bold;font-style:normal" fill="#000" textLength="23.33" lengthAdjust="spacingAndGlyphs">0.0</text>
<text x="928.77" y="86.34" style="font-size:16.22px;font-weight:bold;font-style:normal;stroke-width:0.55px" fill="#000" textLength="24.78" lengthAdjust="spacingAndGlyphs">****</text>
<text x="934.78" y="21.88" style="font-size:18.52px;font-weight:bold;font-style:normal" fill="#000" textLength="81.18" lengthAdjust="spacingAndGlyphs">p/tAMPK</text>
<rect x="1140.9" y="222.9" width="44.2" height="36.5" fill="#00FF00"/>
<rect x="1208.6" y="124.3" width="44.3" height="135.1" fill="#DADBDD"/>
<line x1="1162.9" y1="222.9" x2="1162.9" y2="197.1" stroke="#55FF55" stroke-width="1.5" stroke-linecap="butt"/>
<line x1="1151.4" y1="197.1" x2="1174.3" y2="197.1" stroke="#55FF55" stroke-width="1.5" stroke-linecap="butt"/>
<line x1="1230.6" y1="124.3" x2="1230.6" y2="78" stroke="#444444" stroke-width="1.5" stroke-linecap="butt"/>
<line x1="1219" y1="78" x2="1242" y2="78" stroke="#444444" stroke-width="1.5" stroke-linecap="butt"/>
<line x1="1118.6" y1="56" x2="1118.6" y2="260.5" stroke="#111" stroke-width="2.2" stroke-linecap="butt"/>
<line x1="1109.9" y1="57" x2="1118.6" y2="57" stroke="#111" stroke-width="2" stroke-linecap="butt"/>
<line x1="1109.9" y1="124.47" x2="1118.6" y2="124.47" stroke="#111" stroke-width="2" stroke-linecap="butt"/>
<line x1="1109.9" y1="191.93" x2="1118.6" y2="191.93" stroke="#111" stroke-width="2" stroke-linecap="butt"/>
<line x1="1109.9" y1="259.4" x2="1118.6" y2="259.4" stroke="#111" stroke-width="2" stroke-linecap="butt"/>
<line x1="1109.9" y1="259.4" x2="1274.9" y2="259.4" stroke="#111" stroke-width="2.2" stroke-linecap="butt"/>
<line x1="1162.9" y1="259.4" x2="1162.9" y2="267.4" stroke="#111" stroke-width="2" stroke-linecap="butt"/>
<line x1="1230.6" y1="259.4" x2="1230.6" y2="267.4" stroke="#111" stroke-width="2" stroke-linecap="butt"/>
<text x="1085.35" y="62.57" text-anchor="start" style="font-size:17.86px;font-weight:bold;font-style:normal" fill="#000" textLength="23.12" lengthAdjust="spacingAndGlyphs"><tspan style="font-family:NanumGothic,sans-serif;font-weight:800;font-size:0.89em;stroke-width:0.7px">1</tspan>.5</text>
<text x="1085.6" y="130.04" text-anchor="start" style="font-size:17.86px;font-weight:bold;font-style:normal" fill="#000" textLength="23.12" lengthAdjust="spacingAndGlyphs"><tspan style="font-family:NanumGothic,sans-serif;font-weight:800;font-size:0.89em;stroke-width:0.7px">1</tspan>.0</text>
<text x="1085.35" y="197.5" text-anchor="start" style="font-size:17.86px;font-weight:bold;font-style:normal" fill="#000" textLength="23.12" lengthAdjust="spacingAndGlyphs">0.5</text>
<text x="1085.6" y="264.97" text-anchor="start" style="font-size:17.86px;font-weight:bold;font-style:normal" fill="#000" textLength="23.12" lengthAdjust="spacingAndGlyphs">0.0</text>
<text x="1160.19" y="184.77" style="font-size:15.68px;font-weight:bold;font-style:normal;stroke-width:0.55px" fill="#000" textLength="4.61" lengthAdjust="spacingAndGlyphs">*</text>
<text x="1151.5" y="29.86" style="font-size:19.33px;font-weight:bold;font-style:normal" fill="#000" textLength="90.99" lengthAdjust="spacingAndGlyphs">p/tERK<tspan style="font-family:NanumGothic,sans-serif;font-weight:800;font-size:0.89em;stroke-width:0.7px">1</tspan>/2</text>
<text transform="translate(853.28,214.9) rotate(-90)" style="font-size:19.36px;font-weight:bold;font-style:normal" fill="#000" textLength="118.39" lengthAdjust="spacingAndGlyphs">band density</text>
<text x="963.3" y="300.2" text-anchor="end" transform="rotate(-45 963.3 300.2)" style="font-size:19px;font-weight:bold;font-style:italic" fill="#000" textLength="159.5" lengthAdjust="spacingAndGlyphs">smPit<tspan dx="-1.33" style="font-family:NanumGothic,sans-serif;font-weight:800;font-size:0.89em;stroke-width:0.7px">1</tspan><tspan dy="-7.03" style="font-size:13.68px">-/-</tspan><tspan dy="7.03">;smPit2</tspan><tspan dy="-7.03" style="font-size:13.68px">-/-</tspan></text>
<text x="1020.9" y="321.4" text-anchor="end" transform="rotate(-45 1020.9 321.4)" style="font-size:19px;font-weight:bold;font-style:italic" fill="#000">WT</text>
<text x="1185.4" y="299" text-anchor="end" transform="rotate(-45 1185.4 299)" style="font-size:19px;font-weight:bold;font-style:italic" fill="#000" textLength="159.5" lengthAdjust="spacingAndGlyphs">smPit<tspan dx="-1.33" style="font-family:NanumGothic,sans-serif;font-weight:800;font-size:0.89em;stroke-width:0.7px">1</tspan><tspan dy="-7.03" style="font-size:13.68px">-/-</tspan><tspan dy="7.03">;smPit2</tspan><tspan dy="-7.03" style="font-size:13.68px">-/-</tspan></text>
<text x="1241.9" y="321.4" text-anchor="end" transform="rotate(-45 1241.9 321.4)" style="font-size:19px;font-weight:bold;font-style:italic" fill="#000">WT</text>
<text x="774.58" y="528.45" style="font-size:31.22px;font-weight:bold;font-style:normal;font-family:'Noto Sans CJK JP',sans-serif" fill="#000" textLength="18.25" lengthAdjust="spacingAndGlyphs">E</text>
<rect x="889.2" y="921.9" width="8.5" height="6.39" fill="#DEDEDE"/>
<rect x="923.71" y="819.59" width="8.5" height="108.71" fill="#DEDEDE"/>
<rect x="958.22" y="781.21" width="8.5" height="147.09" fill="#DEDEDE"/>
<rect x="992.72" y="800.4" width="8.5" height="127.9" fill="#DEDEDE"/>
<rect x="1027.23" y="870.75" width="8.5" height="57.55" fill="#DEDEDE"/>
<rect x="1061.74" y="909.12" width="8.5" height="19.18" fill="#DEDEDE"/>
<rect x="1096.25" y="921.9" width="8.5" height="6.39" fill="#DEDEDE"/>
<rect x="1130.76" y="921.9" width="8.5" height="6.39" fill="#DEDEDE"/>
<rect x="1268.79" y="921.9" width="8.5" height="6.39" fill="#DEDEDE"/>
<rect x="901.9" y="870.75" width="8.5" height="57.55" fill="#00FF00"/>
<rect x="936.41" y="614.94" width="8.5" height="313.36" fill="#00FF00"/>
<rect x="970.92" y="653.32" width="8.5" height="274.98" fill="#00FF00"/>
<rect x="1005.42" y="845.16" width="8.5" height="83.13" fill="#00FF00"/>
<rect x="1039.93" y="857.95" width="8.5" height="70.35" fill="#00FF00"/>
<rect x="1074.44" y="909.12" width="8.5" height="19.18" fill="#00FF00"/>
<rect x="1143.46" y="921.9" width="8.5" height="6.39" fill="#00FF00"/>
<rect x="1177.97" y="921.9" width="8.5" height="6.39" fill="#00FF00"/>
<line x1="884.8" y1="543.6" x2="884.8" y2="929.4" stroke="#000" stroke-width="2.2" stroke-linecap="butt"/>
<line x1="881.2" y1="544.6" x2="884.8" y2="544.6" stroke="#000" stroke-width="2" stroke-linecap="butt"/>
<line x1="881.2" y1="672.5" x2="884.8" y2="672.5" stroke="#000" stroke-width="2" stroke-linecap="butt"/>
<line x1="881.2" y1="800.4" x2="884.8" y2="800.4" stroke="#000" stroke-width="2" stroke-linecap="butt"/>
<line x1="881.2" y1="928.3" x2="884.8" y2="928.3" stroke="#000" stroke-width="2" stroke-linecap="butt"/>
<line x1="881.2" y1="928.3" x2="1329.5" y2="928.3" stroke="#000" stroke-width="2.2" stroke-linecap="butt"/>
<line x1="899.4" y1="928.3" x2="899.4" y2="932.3" stroke="#000" stroke-width="2" stroke-linecap="butt"/>
<line x1="933.91" y1="928.3" x2="933.91" y2="932.3" stroke="#000" stroke-width="2" stroke-linecap="butt"/>
<line x1="968.42" y1="928.3" x2="968.42" y2="932.3" stroke="#000" stroke-width="2" stroke-linecap="butt"/>
<line x1="1002.92" y1="928.3" x2="1002.92" y2="932.3" stroke="#000" stroke-width="2" stroke-linecap="butt"/>
<line x1="1037.43" y1="928.3" x2="1037.43" y2="932.3" stroke="#000" stroke-width="2" stroke-linecap="butt"/>
<line x1="1071.94" y1="928.3" x2="1071.94" y2="932.3" stroke="#000" stroke-width="2" stroke-linecap="butt"/>
<line x1="1106.45" y1="928.3" x2="1106.45" y2="932.3" stroke="#000" stroke-width="2" stroke-linecap="butt"/>
<line x1="1140.96" y1="928.3" x2="1140.96" y2="932.3" stroke="#000" stroke-width="2" stroke-linecap="butt"/>
<line x1="1175.47" y1="928.3" x2="1175.47" y2="932.3" stroke="#000" stroke-width="2" stroke-linecap="butt"/>
<line x1="1209.97" y1="928.3" x2="1209.97" y2="932.3" stroke="#000" stroke-width="2" stroke-linecap="butt"/>
<line x1="1244.48" y1="928.3" x2="1244.48" y2="932.3" stroke="#000" stroke-width="2" stroke-linecap="butt"/>
<line x1="1278.99" y1="928.3" x2="1278.99" y2="932.3" stroke="#000" stroke-width="2" stroke-linecap="butt"/>
<line x1="1313.5" y1="928.3" x2="1313.5" y2="932.3" stroke="#000" stroke-width="2" stroke-linecap="butt"/>
<text x="862.04" y="549.89" text-anchor="start" style="font-size:15.77px;font-weight:bold;font-style:normal" fill="#000" textLength="16.34" lengthAdjust="spacingAndGlyphs">60</text>
<text x="862.04" y="677.79" text-anchor="start" style="font-size:15.77px;font-weight:bold;font-style:normal" fill="#000" textLength="16.34" lengthAdjust="spacingAndGlyphs">40</text>
<text x="862.04" y="805.69" text-anchor="start" style="font-size:15.77px;font-weight:bold;font-style:normal" fill="#000" textLength="16.34" lengthAdjust="spacingAndGlyphs">20</text>
<text x="870.19" y="933.59" text-anchor="start" style="font-size:15.77px;font-weight:bold;font-style:normal" fill="#000" textLength="8.17" lengthAdjust="spacingAndGlyphs">0</text>
<text x="902.9" y="944.5" text-anchor="end" transform="rotate(-45 902.9 944.5)" style="font-size:14.5px;font-weight:bold;font-style:normal" fill="#000">0</text>
<text x="937.41" y="944.5" text-anchor="end" transform="rotate(-45 937.41 944.5)" style="font-size:14.5px;font-weight:bold;font-style:normal" fill="#000">2</text>
<text x="971.92" y="944.5" text-anchor="end" transform="rotate(-45 971.92 944.5)" style="font-size:14.5px;font-weight:bold;font-style:normal" fill="#000">4</text>
<text x="1006.42" y="944.5" text-anchor="end" transform="rotate(-45 1006.42 944.5)" style="font-size:14.5px;font-weight:bold;font-style:normal" fill="#000">6</text>
<text x="1040.93" y="944.5" text-anchor="end" transform="rotate(-45 1040.93 944.5)" style="font-size:14.5px;font-weight:bold;font-style:normal" fill="#000">8</text>
<text x="1075.44" y="944.5" text-anchor="end" transform="rotate(-45 1075.44 944.5)" style="font-size:14.5px;font-weight:bold;font-style:normal" fill="#000"><tspan style="font-family:NanumGothic,sans-serif;font-weight:800;font-size:0.89em;stroke-width:0.7px">1</tspan>0</text>
<text x="1109.95" y="944.5" text-anchor="end" transform="rotate(-45 1109.95 944.5)" style="font-size:14.5px;font-weight:bold;font-style:normal" fill="#000"><tspan style="font-family:NanumGothic,sans-serif;font-weight:800;font-size:0.89em;stroke-width:0.7px">1</tspan>2</text>
<text x="1144.46" y="944.5" text-anchor="end" transform="rotate(-45 1144.46 944.5)" style="font-size:14.5px;font-weight:bold;font-style:normal" fill="#000"><tspan style="font-family:NanumGothic,sans-serif;font-weight:800;font-size:0.89em;stroke-width:0.7px">1</tspan>4</text>
<text x="1178.97" y="944.5" text-anchor="end" transform="rotate(-45 1178.97 944.5)" style="font-size:14.5px;font-weight:bold;font-style:normal" fill="#000"><tspan style="font-family:NanumGothic,sans-serif;font-weight:800;font-size:0.89em;stroke-width:0.7px">1</tspan>6</text>
<text x="1213.47" y="944.5" text-anchor="end" transform="rotate(-45 1213.47 944.5)" style="font-size:14.5px;font-weight:bold;font-style:normal" fill="#000"><tspan style="font-family:NanumGothic,sans-serif;font-weight:800;font-size:0.89em;stroke-width:0.7px">1</tspan>8</text>
<text x="1247.98" y="944.5" text-anchor="end" transform="rotate(-45 1247.98 944.5)" style="font-size:14.5px;font-weight:bold;font-style:normal" fill="#000">20</text>
<text x="1282.49" y="944.5" text-anchor="end" transform="rotate(-45 1282.49 944.5)" style="font-size:14.5px;font-weight:bold;font-style:normal" fill="#000">22</text>
<text x="1317" y="944.5" text-anchor="end" transform="rotate(-45 1317 944.5)" style="font-size:14.5px;font-weight:bold;font-style:normal" fill="#000">24</text>
<text x="1033.59" y="980.08" style="font-size:16.73px;font-weight:bold;font-style:normal" fill="#000" textLength="145.22" lengthAdjust="spacingAndGlyphs">mitochondrial area</text>
<text transform="translate(855.79,802.4) rotate(-90)" style="font-size:16.05px;font-weight:bold;font-style:normal" fill="#000" textLength="136.02" lengthAdjust="spacingAndGlyphs">Number of values</text>
<rect x="923.7" y="547" width="18" height="14.3" fill="#DEDEDE"/>
<rect x="923.7" y="567.9" width="18" height="14.6" fill="#00FF00"/>
<text x="949.72" y="560.25" style="font-size:16.96px;font-weight:bold;font-style:italic" fill="#000" textLength="25.58" lengthAdjust="spacingAndGlyphs">WT</text>
<text x="950" y="584.3" text-anchor="start" style="font-size:16.5px;font-weight:bold;font-style:italic" fill="#000" textLength="134.8" lengthAdjust="spacingAndGlyphs">smPit<tspan dx="-1.16" style="font-family:NanumGothic,sans-serif;font-weight:800;font-size:0.89em;stroke-width:0.7px">1</tspan><tspan dy="-6.1" style="font-size:11.88px">-/-</tspan><tspan dy="6.1">;smPit2</tspan><tspan dy="-6.1" style="font-size:11.88px">-/-</tspan></text>
<rect x="1185.6" y="661.2" width="38.4" height="113.4" fill="#D3D3D3"/>
<rect x="1243.8" y="687.7" width="39.1" height="86.9" fill="#00FF00"/>
<line x1="1205.4" y1="661.2" x2="1205.4" y2="586.4" stroke="#222" stroke-width="1.5" stroke-linecap="butt"/>
<line x1="1195.5" y1="586.4" x2="1215.3" y2="586.4" stroke="#222" stroke-width="1.5" stroke-linecap="butt"/>
<line x1="1263" y1="687.7" x2="1263" y2="628.3" stroke="#222" stroke-width="1.5" stroke-linecap="butt"/>
<line x1="1253.2" y1="628.3" x2="1273.5" y2="628.3" stroke="#222" stroke-width="1.5" stroke-linecap="butt"/>
<line x1="1165.8" y1="549.4" x2="1165.8" y2="775.6" stroke="#000" stroke-width="2" stroke-linecap="butt"/>
<line x1="1162.8" y1="550.3" x2="1165.8" y2="550.3" stroke="#000" stroke-width="1.8" stroke-linecap="butt"/>
<line x1="1162.8" y1="595.6" x2="1165.8" y2="595.6" stroke="#000" stroke-width="1.8" stroke-linecap="butt"/>
<line x1="1162.8" y1="640.6" x2="1165.8" y2="640.6" stroke="#000" stroke-width="1.8" stroke-linecap="butt"/>
<line x1="1162.8" y1="685.4" x2="1165.8" y2="685.4" stroke="#000" stroke-width="1.8" stroke-linecap="butt"/>
<line x1="1162.8" y1="730" x2="1165.8" y2="730" stroke="#000" stroke-width="1.8" stroke-linecap="butt"/>
<line x1="1162.8" y1="774.6" x2="1165.8" y2="774.6" stroke="#000" stroke-width="1.8" stroke-linecap="butt"/>
<line x1="1162.8" y1="774.6" x2="1302.7" y2="774.6" stroke="#000" stroke-width="2" stroke-linecap="butt"/>
<line x1="1205.4" y1="774.6" x2="1205.4" y2="777.6" stroke="#000" stroke-width="1.8" stroke-linecap="butt"/>
<line x1="1263" y1="774.6" x2="1263" y2="777.6" stroke="#000" stroke-width="1.8" stroke-linecap="butt"/>
<text x="1145.53" y="555.22" text-anchor="start" style="font-size:13.38px;font-weight:bold;font-style:normal" fill="#000" textLength="15.2" lengthAdjust="spacingAndGlyphs"><tspan style="font-family:NanumGothic,sans-serif;font-weight:800;font-size:0.89em;stroke-width:0.7px">1</tspan>0</text>
<text x="1152.98" y="600.52" text-anchor="start" style="font-size:13.38px;font-weight:bold;font-style:normal" fill="#000" textLength="7.6" lengthAdjust="spacingAndGlyphs">8</text>
<text x="1153.05" y="645.52" text-anchor="start" style="font-size:13.38px;font-weight:bold;font-style:normal" fill="#000" textLength="7.6" lengthAdjust="spacingAndGlyphs">6</text>
<text x="1152.64" y="690.32" text-anchor="start" style="font-size:13.38px;font-weight:bold;font-style:normal" fill="#000" textLength="7.6" lengthAdjust="spacingAndGlyphs">4</text>
<text x="1153.11" y="734.92" text-anchor="start" style="font-size:13.38px;font-weight:bold;font-style:normal" fill="#000" textLength="7.6" lengthAdjust="spacingAndGlyphs">2</text>
<text x="1153.11" y="779.52" text-anchor="start" style="font-size:13.38px;font-weight:bold;font-style:normal" fill="#000" textLength="7.6" lengthAdjust="spacingAndGlyphs">0</text>
<text x="1258.79" y="617.34" style="font-size:12.16px;font-weight:bold;font-style:normal;stroke-width:0.55px" fill="#000" textLength="9.5" lengthAdjust="spacingAndGlyphs">**</text>
<text transform="translate(1141.59,756) rotate(-90)" style="font-size:16.19px;font-weight:bold;font-style:normal" fill="#000" textLength="191.02" lengthAdjust="spacingAndGlyphs">mean mitochondrial area</text>
<text x="1337.34" y="41.35" style="font-size:31.22px;font-weight:bold;font-style:normal;font-family:'Noto Sans CJK JP',sans-serif" fill="#000" textLength="16.97" lengthAdjust="spacingAndGlyphs">F</text>
<rect x="1509.1" y="147.4" width="42.5" height="55.8" fill="#00FF00"/>
<rect x="1573" y="101.2" width="42.7" height="102" fill="#DADBDD"/>
<line x1="1529.7" y1="147.4" x2="1529.7" y2="126.6" stroke="#55FF55" stroke-width="1.4" stroke-linecap="butt"/>
<line x1="1519.4" y1="126.6" x2="1540.6" y2="126.6" stroke="#55FF55" stroke-width="1.4" stroke-linecap="butt"/>
<line x1="1594.3" y1="101.2" x2="1594.3" y2="80.6" stroke="#444444" stroke-width="1.4" stroke-linecap="butt"/>
<line x1="1583.6" y1="80.6" x2="1604.8" y2="80.6" stroke="#444444" stroke-width="1.4" stroke-linecap="butt"/>
<line x1="1487.2" y1="33.4" x2="1487.2" y2="204.2" stroke="#111" stroke-width="2" stroke-linecap="butt"/>
<line x1="1480.2" y1="34.3" x2="1487.2" y2="34.3" stroke="#111" stroke-width="1.8" stroke-linecap="butt"/>
<line x1="1480.2" y1="76.52" x2="1487.2" y2="76.52" stroke="#111" stroke-width="1.8" stroke-linecap="butt"/>
<line x1="1480.2" y1="118.75" x2="1487.2" y2="118.75" stroke="#111" stroke-width="1.8" stroke-linecap="butt"/>
<line x1="1480.2" y1="160.97" x2="1487.2" y2="160.97" stroke="#111" stroke-width="1.8" stroke-linecap="butt"/>
<line x1="1480.2" y1="203.2" x2="1487.2" y2="203.2" stroke="#111" stroke-width="1.8" stroke-linecap="butt"/>
<line x1="1480.2" y1="203.2" x2="1636.2" y2="203.2" stroke="#111" stroke-width="2" stroke-linecap="butt"/>
<line x1="1529.7" y1="203.2" x2="1529.7" y2="210.2" stroke="#111" stroke-width="1.8" stroke-linecap="butt"/>
<line x1="1594.3" y1="203.2" x2="1594.3" y2="210.2" stroke="#111" stroke-width="1.8" stroke-linecap="butt"/>
<text x="1419.5" y="40.38" text-anchor="start" style="font-size:17.46px;font-weight:bold;font-style:normal" fill="#000" textLength="59.03" lengthAdjust="spacingAndGlyphs">0.00004</text>
<text x="1419.99" y="82.6" text-anchor="start" style="font-size:17.46px;font-weight:bold;font-style:normal" fill="#000" textLength="59.03" lengthAdjust="spacingAndGlyphs">0.00003</text>
<text x="1420.07" y="124.83" text-anchor="start" style="font-size:17.46px;font-weight:bold;font-style:normal" fill="#000" textLength="59.03" lengthAdjust="spacingAndGlyphs">0.00002</text>
<text x="1419.82" y="167.05" text-anchor="start" style="font-size:17.46px;font-weight:bold;font-style:normal" fill="#000" textLength="59.03" lengthAdjust="spacingAndGlyphs">0.0000<tspan style="font-family:NanumGothic,sans-serif;font-weight:800;font-size:0.89em;stroke-width:0.7px">1</tspan></text>
<text x="1420.07" y="209.28" text-anchor="start" style="font-size:17.46px;font-weight:bold;font-style:normal" fill="#000" textLength="59.03" lengthAdjust="spacingAndGlyphs">0.00000</text>
<text x="1520.21" y="108.59" style="font-size:16.18px;font-weight:bold;font-style:normal" fill="#000" textLength="18.72" lengthAdjust="spacingAndGlyphs">ns</text>
<text x="1533.17" y="22.25" style="font-size:19.28px;font-weight:bold;font-style:italic" fill="#000" textLength="40.34" lengthAdjust="spacingAndGlyphs">Xpr<tspan dx="-1.35" style="font-family:NanumGothic,sans-serif;font-weight:800;font-size:0.89em;stroke-width:0.7px">1</tspan></text>
<rect x="1745.7" y="154" width="42.3" height="49.3" fill="#00FF00"/>
<rect x="1809.2" y="75.2" width="41.7" height="128.1" fill="#DADBDD"/>
<line x1="1766.5" y1="154" x2="1766.5" y2="138.7" stroke="#55FF55" stroke-width="1.4" stroke-linecap="butt"/>
<line x1="1756.2" y1="138.7" x2="1777" y2="138.7" stroke="#55FF55" stroke-width="1.4" stroke-linecap="butt"/>
<line x1="1830" y1="75.2" x2="1830" y2="49.7" stroke="#444444" stroke-width="1.4" stroke-linecap="butt"/>
<line x1="1819.8" y1="49.7" x2="1840.6" y2="49.7" stroke="#444444" stroke-width="1.4" stroke-linecap="butt"/>
<line x1="1724.2" y1="35.2" x2="1724.2" y2="204.3" stroke="#111" stroke-width="2" stroke-linecap="butt"/>
<line x1="1717.2" y1="36.1" x2="1724.2" y2="36.1" stroke="#111" stroke-width="1.8" stroke-linecap="butt"/>
<line x1="1717.2" y1="77.9" x2="1724.2" y2="77.9" stroke="#111" stroke-width="1.8" stroke-linecap="butt"/>
<line x1="1717.2" y1="119.7" x2="1724.2" y2="119.7" stroke="#111" stroke-width="1.8" stroke-linecap="butt"/>
<line x1="1717.2" y1="161.5" x2="1724.2" y2="161.5" stroke="#111" stroke-width="1.8" stroke-linecap="butt"/>
<line x1="1717.2" y1="203.3" x2="1724.2" y2="203.3" stroke="#111" stroke-width="1.8" stroke-linecap="butt"/>
<line x1="1717.2" y1="203.3" x2="1872.4" y2="203.3" stroke="#111" stroke-width="2" stroke-linecap="butt"/>
<line x1="1766.5" y1="203.3" x2="1766.5" y2="210.3" stroke="#111" stroke-width="1.8" stroke-linecap="butt"/>
<line x1="1830" y1="203.3" x2="1830" y2="210.3" stroke="#111" stroke-width="1.8" stroke-linecap="butt"/>
<text x="1657.2" y="42.39" text-anchor="start" style="font-size:16.48px;font-weight:bold;font-style:normal" fill="#000" textLength="58.84" lengthAdjust="spacingAndGlyphs">0.00008</text>
<text x="1657.28" y="84.19" text-anchor="start" style="font-size:16.48px;font-weight:bold;font-style:normal" fill="#000" textLength="58.84" lengthAdjust="spacingAndGlyphs">0.00006</text>
<text x="1656.79" y="125.99" text-anchor="start" style="font-size:16.48px;font-weight:bold;font-style:normal" fill="#000" textLength="58.84" lengthAdjust="spacingAndGlyphs">0.00004</text>
<text x="1657.36" y="167.79" text-anchor="start" style="font-size:16.48px;font-weight:bold;font-style:normal" fill="#000" textLength="58.84" lengthAdjust="spacingAndGlyphs">0.00002</text>
<text x="1657.36" y="209.59" text-anchor="start" style="font-size:16.48px;font-weight:bold;font-style:normal" fill="#000" textLength="58.84" lengthAdjust="spacingAndGlyphs">0.00000</text>
<text x="1764.19" y="127.87" style="font-size:13.51px;font-weight:bold;font-style:normal;stroke-width:0.55px" fill="#000" textLength="4.61" lengthAdjust="spacingAndGlyphs">*</text>
<text x="1760.28" y="14.55" style="font-size:18.07px;font-weight:bold;font-style:italic" fill="#000" textLength="42.81" lengthAdjust="spacingAndGlyphs">Mfn2</text>
<rect x="1508.5" y="390.8" width="44.8" height="48.8" fill="#00FF00"/>
<rect x="1575.9" y="321.8" width="44.9" height="117.8" fill="#DADBDD"/>
<line x1="1530.3" y1="390.8" x2="1530.3" y2="374.8" stroke="#55FF55" stroke-width="1.4" stroke-linecap="butt"/>
<line x1="1519.4" y1="374.8" x2="1542" y2="374.8" stroke="#55FF55" stroke-width="1.4" stroke-linecap="butt"/>
<line x1="1598.2" y1="321.8" x2="1598.2" y2="303.6" stroke="#444444" stroke-width="1.4" stroke-linecap="butt"/>
<line x1="1587.3" y1="303.6" x2="1609.6" y2="303.6" stroke="#444444" stroke-width="1.4" stroke-linecap="butt"/>
<line x1="1486" y1="261.8" x2="1486" y2="440.6" stroke="#111" stroke-width="2" stroke-linecap="butt"/>
<line x1="1479" y1="262.7" x2="1486" y2="262.7" stroke="#111" stroke-width="1.8" stroke-linecap="butt"/>
<line x1="1479" y1="306.93" x2="1486" y2="306.93" stroke="#111" stroke-width="1.8" stroke-linecap="butt"/>
<line x1="1479" y1="351.15" x2="1486" y2="351.15" stroke="#111" stroke-width="1.8" stroke-linecap="butt"/>
<line x1="1479" y1="395.38" x2="1486" y2="395.38" stroke="#111" stroke-width="1.8" stroke-linecap="butt"/>
<line x1="1479" y1="439.6" x2="1486" y2="439.6" stroke="#111" stroke-width="1.8" stroke-linecap="butt"/>
<line x1="1479" y1="439.6" x2="1642.7" y2="439.6" stroke="#111" stroke-width="2" stroke-linecap="butt"/>
<line x1="1530.3" y1="439.6" x2="1530.3" y2="446.6" stroke="#111" stroke-width="1.8" stroke-linecap="butt"/>
<line x1="1598.2" y1="439.6" x2="1598.2" y2="446.6" stroke="#111" stroke-width="1.8" stroke-linecap="butt"/>
<text x="1424.06" y="269.08" text-anchor="start" style="font-size:17.46px;font-weight:bold;font-style:normal" fill="#000" textLength="52.65" lengthAdjust="spacingAndGlyphs">0.0020</text>
<text x="1423.8" y="313.3" text-anchor="start" style="font-size:17.46px;font-weight:bold;font-style:normal" fill="#000" textLength="52.65" lengthAdjust="spacingAndGlyphs">0.00<tspan style="font-family:NanumGothic,sans-serif;font-weight:800;font-size:0.89em;stroke-width:0.7px">1</tspan>5</text>
<text x="1424.06" y="357.53" text-anchor="start" style="font-size:17.46px;font-weight:bold;font-style:normal" fill="#000" textLength="52.65" lengthAdjust="spacingAndGlyphs">0.00<tspan style="font-family:NanumGothic,sans-serif;font-weight:800;font-size:0.89em;stroke-width:0.7px">1</tspan>0</text>
<text x="1423.8" y="401.75" text-anchor="start" style="font-size:17.46px;font-weight:bold;font-style:normal" fill="#000" textLength="52.65" lengthAdjust="spacingAndGlyphs">0.0005</text>
<text x="1424.06" y="445.98" text-anchor="start" style="font-size:17.46px;font-weight:bold;font-style:normal" fill="#000" textLength="52.65" lengthAdjust="spacingAndGlyphs">0.0000</text>
<text x="1527.88" y="361.32" style="font-size:14.59px;font-weight:bold;font-style:normal;stroke-width:0.55px" fill="#000" textLength="5.53" lengthAdjust="spacingAndGlyphs">*</text>
<text x="1524.46" y="252.45" style="font-size:19.86px;font-weight:bold;font-style:italic" fill="#000" textLength="71.69" lengthAdjust="spacingAndGlyphs">Slc25a3</text>
<rect x="1746.4" y="335" width="42.5" height="106" fill="#00FF00"/>
<rect x="1810.8" y="306.1" width="42.7" height="134.9" fill="#DADBDD"/>
<line x1="1767.6" y1="335" x2="1767.6" y2="316.4" stroke="#55FF55" stroke-width="1.4" stroke-linecap="butt"/>
<line x1="1756.7" y1="316.4" x2="1777.9" y2="316.4" stroke="#55FF55" stroke-width="1.4" stroke-linecap="butt"/>
<line x1="1831.8" y1="306.1" x2="1831.8" y2="287.5" stroke="#444444" stroke-width="1.4" stroke-linecap="butt"/>
<line x1="1821.7" y1="287.5" x2="1842.8" y2="287.5" stroke="#444444" stroke-width="1.4" stroke-linecap="butt"/>
<line x1="1724.2" y1="270.9" x2="1724.2" y2="442" stroke="#111" stroke-width="2" stroke-linecap="butt"/>
<line x1="1717.2" y1="271.8" x2="1724.2" y2="271.8" stroke="#111" stroke-width="1.8" stroke-linecap="butt"/>
<line x1="1717.2" y1="314.1" x2="1724.2" y2="314.1" stroke="#111" stroke-width="1.8" stroke-linecap="butt"/>
<line x1="1717.2" y1="356.4" x2="1724.2" y2="356.4" stroke="#111" stroke-width="1.8" stroke-linecap="butt"/>
<line x1="1717.2" y1="398.7" x2="1724.2" y2="398.7" stroke="#111" stroke-width="1.8" stroke-linecap="butt"/>
<line x1="1717.2" y1="441" x2="1724.2" y2="441" stroke="#111" stroke-width="1.8" stroke-linecap="butt"/>
<line x1="1717.2" y1="441" x2="1875" y2="441" stroke="#111" stroke-width="2" stroke-linecap="butt"/>
<line x1="1767.6" y1="441" x2="1767.6" y2="448" stroke="#111" stroke-width="1.8" stroke-linecap="butt"/>
<line x1="1831.8" y1="441" x2="1831.8" y2="448" stroke="#111" stroke-width="1.8" stroke-linecap="butt"/>
<text x="1655.48" y="277.98" text-anchor="start" style="font-size:16.9px;font-weight:bold;font-style:normal" fill="#000" textLength="60.33" lengthAdjust="spacingAndGlyphs">0.00020</text>
<text x="1655.23" y="320.28" text-anchor="start" style="font-size:16.9px;font-weight:bold;font-style:normal" fill="#000" textLength="60.33" lengthAdjust="spacingAndGlyphs">0.000<tspan style="font-family:NanumGothic,sans-serif;font-weight:800;font-size:0.89em;stroke-width:0.7px">1</tspan>5</text>
<text x="1655.48" y="362.58" text-anchor="start" style="font-size:16.9px;font-weight:bold;font-style:normal" fill="#000" textLength="60.33" lengthAdjust="spacingAndGlyphs">0.000<tspan style="font-family:NanumGothic,sans-serif;font-weight:800;font-size:0.89em;stroke-width:0.7px">1</tspan>0</text>
<text x="1655.23" y="404.88" text-anchor="start" style="font-size:16.9px;font-weight:bold;font-style:normal" fill="#000" textLength="60.33" lengthAdjust="spacingAndGlyphs">0.00005</text>
<text x="1655.48" y="447.18" text-anchor="start" style="font-size:16.9px;font-weight:bold;font-style:normal" fill="#000" textLength="60.33" lengthAdjust="spacingAndGlyphs">0.00000</text>
<text x="1757.41" y="303.28" style="font-size:16.73px;font-weight:bold;font-style:normal" fill="#000" textLength="18.72" lengthAdjust="spacingAndGlyphs">ns</text>
<text x="1772.58" y="254.56" style="font-size:18.78px;font-weight:bold;font-style:italic" fill="#000" textLength="36.69" lengthAdjust="spacingAndGlyphs">Fis<tspan dx="-1.31" style="font-family:NanumGothic,sans-serif;font-weight:800;font-size:0.89em;stroke-width:0.7px">1</tspan></text>
<rect x="1511" y="590.5" width="45.2" height="97.6" fill="#00FF00"/>
<rect x="1579.5" y="546.4" width="45.3" height="141.7" fill="#DADBDD"/>
<line x1="1533.6" y1="590.5" x2="1533.6" y2="558.8" stroke="#55FF55" stroke-width="1.4" stroke-linecap="butt"/>
<line x1="1522.4" y1="558.8" x2="1545" y2="558.8" stroke="#55FF55" stroke-width="1.4" stroke-linecap="butt"/>
<line x1="1602.1" y1="546.4" x2="1602.1" y2="516.9" stroke="#444444" stroke-width="1.4" stroke-linecap="butt"/>
<line x1="1590.7" y1="516.9" x2="1613.8" y2="516.9" stroke="#444444" stroke-width="1.4" stroke-linecap="butt"/>
<line x1="1487.7" y1="506.8" x2="1487.7" y2="689.1" stroke="#111" stroke-width="2" stroke-linecap="butt"/>
<line x1="1480.7" y1="507.7" x2="1487.7" y2="507.7" stroke="#111" stroke-width="1.8" stroke-linecap="butt"/>
<line x1="1480.7" y1="567.83" x2="1487.7" y2="567.83" stroke="#111" stroke-width="1.8" stroke-linecap="butt"/>
<line x1="1480.7" y1="627.97" x2="1487.7" y2="627.97" stroke="#111" stroke-width="1.8" stroke-linecap="butt"/>
<line x1="1480.7" y1="688.1" x2="1487.7" y2="688.1" stroke="#111" stroke-width="1.8" stroke-linecap="butt"/>
<line x1="1480.7" y1="688.1" x2="1647.6" y2="688.1" stroke="#111" stroke-width="2" stroke-linecap="butt"/>
<line x1="1533.6" y1="688.1" x2="1533.6" y2="695.1" stroke="#111" stroke-width="1.8" stroke-linecap="butt"/>
<line x1="1602.1" y1="688.1" x2="1602.1" y2="695.1" stroke="#111" stroke-width="1.8" stroke-linecap="butt"/>
<text x="1415.25" y="514.27" text-anchor="start" style="font-size:18.45px;font-weight:bold;font-style:normal" fill="#000" textLength="63.62" lengthAdjust="spacingAndGlyphs">0.00003</text>
<text x="1415.33" y="574.4" text-anchor="start" style="font-size:18.45px;font-weight:bold;font-style:normal" fill="#000" textLength="63.62" lengthAdjust="spacingAndGlyphs">0.00002</text>
<text x="1415.07" y="634.53" text-anchor="start" style="font-size:18.45px;font-weight:bold;font-style:normal" fill="#000" textLength="63.62" lengthAdjust="spacingAndGlyphs">0.0000<tspan style="font-family:NanumGothic,sans-serif;font-weight:800;font-size:0.89em;stroke-width:0.7px">1</tspan></text>
<text x="1415.33" y="694.67" text-anchor="start" style="font-size:18.45px;font-weight:bold;font-style:normal" fill="#000" textLength="63.62" lengthAdjust="spacingAndGlyphs">0.00000</text>
<text x="1523.11" y="535.26" style="font-size:18.55px;font-weight:bold;font-style:normal" fill="#000" textLength="20.48" lengthAdjust="spacingAndGlyphs">ns</text>
<text x="1520.06" y="482.65" style="font-size:19.86px;font-weight:bold;font-style:italic" fill="#000" textLength="57.5" lengthAdjust="spacingAndGlyphs">Pgc<tspan dx="-1.39" style="font-family:NanumGothic,sans-serif;font-weight:800;font-size:0.89em;stroke-width:0.7px">1</tspan>a</text>
<rect x="1755.3" y="661.5" width="44.7" height="25.5" fill="#00FF00"/>
<rect x="1823.1" y="576.7" width="44.3" height="110.3" fill="#DADBDD"/>
<line x1="1777.4" y1="661.5" x2="1777.4" y2="650.5" stroke="#55FF55" stroke-width="1.4" stroke-linecap="butt"/>
<line x1="1766.2" y1="650.5" x2="1788.9" y2="650.5" stroke="#55FF55" stroke-width="1.4" stroke-linecap="butt"/>
<line x1="1845.3" y1="576.7" x2="1845.3" y2="550.7" stroke="#444444" stroke-width="1.4" stroke-linecap="butt"/>
<line x1="1834.1" y1="550.7" x2="1856.5" y2="550.7" stroke="#444444" stroke-width="1.4" stroke-linecap="butt"/>
<line x1="1732.3" y1="508" x2="1732.3" y2="688" stroke="#111" stroke-width="2" stroke-linecap="butt"/>
<line x1="1725.3" y1="508.9" x2="1732.3" y2="508.9" stroke="#111" stroke-width="1.8" stroke-linecap="butt"/>
<line x1="1725.3" y1="553.42" x2="1732.3" y2="553.42" stroke="#111" stroke-width="1.8" stroke-linecap="butt"/>
<line x1="1725.3" y1="597.95" x2="1732.3" y2="597.95" stroke="#111" stroke-width="1.8" stroke-linecap="butt"/>
<line x1="1725.3" y1="642.48" x2="1732.3" y2="642.48" stroke="#111" stroke-width="1.8" stroke-linecap="butt"/>
<line x1="1725.3" y1="687" x2="1732.3" y2="687" stroke="#111" stroke-width="1.8" stroke-linecap="butt"/>
<line x1="1725.3" y1="687" x2="1890" y2="687" stroke="#111" stroke-width="2" stroke-linecap="butt"/>
<line x1="1777.4" y1="687" x2="1777.4" y2="694" stroke="#111" stroke-width="1.8" stroke-linecap="butt"/>
<line x1="1845.3" y1="687" x2="1845.3" y2="694" stroke="#111" stroke-width="1.8" stroke-linecap="butt"/>
<text x="1670.66" y="515.27" text-anchor="start" style="font-size:17.75px;font-weight:bold;font-style:normal" fill="#000" textLength="52.76" lengthAdjust="spacingAndGlyphs">0.0020</text>
<text x="1670.4" y="559.8" text-anchor="start" style="font-size:17.75px;font-weight:bold;font-style:normal" fill="#000" textLength="52.76" lengthAdjust="spacingAndGlyphs">0.00<tspan style="font-family:NanumGothic,sans-serif;font-weight:800;font-size:0.89em;stroke-width:0.7px">1</tspan>5</text>
<text x="1670.66" y="604.32" text-anchor="start" style="font-size:17.75px;font-weight:bold;font-style:normal" fill="#000" textLength="52.76" lengthAdjust="spacingAndGlyphs">0.00<tspan style="font-family:NanumGothic,sans-serif;font-weight:800;font-size:0.89em;stroke-width:0.7px">1</tspan>0</text>
<text x="1670.4" y="648.85" text-anchor="start" style="font-size:17.75px;font-weight:bold;font-style:normal" fill="#000" textLength="52.76" lengthAdjust="spacingAndGlyphs">0.0005</text>
<text x="1670.66" y="693.37" text-anchor="start" style="font-size:17.75px;font-weight:bold;font-style:normal" fill="#000" textLength="52.76" lengthAdjust="spacingAndGlyphs">0.0000</text>
<text x="1771.17" y="637.05" style="font-size:15.95px;font-weight:bold;font-style:normal;stroke-width:0.55px" fill="#000" textLength="12.53" lengthAdjust="spacingAndGlyphs">**</text>
<text x="1767.77" y="490.45" style="font-size:19.45px;font-weight:bold;font-style:italic" fill="#000" textLength="45.84" lengthAdjust="spacingAndGlyphs">Pgk<tspan dx="-1.36" style="font-family:NanumGothic,sans-serif;font-weight:800;font-size:0.89em;stroke-width:0.7px">1</tspan></text>
<rect x="1509" y="825" width="45.3" height="108.8" fill="#00FF00"/>
<rect x="1577.6" y="920.2" width="45.3" height="13.6" fill="#DADBDD"/>
<line x1="1531.2" y1="825" x2="1531.2" y2="798.3" stroke="#55FF55" stroke-width="1.4" stroke-linecap="butt"/>
<line x1="1520" y1="798.3" x2="1542.6" y2="798.3" stroke="#55FF55" stroke-width="1.4" stroke-linecap="butt"/>
<line x1="1600.2" y1="920.2" x2="1600.2" y2="914.3" stroke="#444444" stroke-width="1.4" stroke-linecap="butt"/>
<line x1="1589" y1="914.3" x2="1611.7" y2="914.3" stroke="#444444" stroke-width="1.4" stroke-linecap="butt"/>
<line x1="1486" y1="752" x2="1486" y2="934.8" stroke="#111" stroke-width="2" stroke-linecap="butt"/>
<line x1="1479" y1="752.9" x2="1486" y2="752.9" stroke="#111" stroke-width="1.8" stroke-linecap="butt"/>
<line x1="1479" y1="813.2" x2="1486" y2="813.2" stroke="#111" stroke-width="1.8" stroke-linecap="butt"/>
<line x1="1479" y1="873.5" x2="1486" y2="873.5" stroke="#111" stroke-width="1.8" stroke-linecap="butt"/>
<line x1="1479" y1="933.8" x2="1486" y2="933.8" stroke="#111" stroke-width="1.8" stroke-linecap="butt"/>
<line x1="1479" y1="933.8" x2="1645.7" y2="933.8" stroke="#111" stroke-width="2" stroke-linecap="butt"/>
<line x1="1531.2" y1="933.8" x2="1531.2" y2="940.8" stroke="#111" stroke-width="1.8" stroke-linecap="butt"/>
<line x1="1600.2" y1="933.8" x2="1600.2" y2="940.8" stroke="#111" stroke-width="1.8" stroke-linecap="butt"/>
<text x="1476.9" y="760.6" text-anchor="end" style="font-size:16.6px;font-weight:bold;font-style:normal" fill="#000" textLength="64.2" lengthAdjust="spacingAndGlyphs"><tspan style="font-family:NanumGothic,sans-serif;font-weight:800;font-size:0.89em;stroke-width:0.7px">1</tspan>.5×<tspan style="font-family:NanumGothic,sans-serif;font-weight:800;font-size:0.89em;stroke-width:0.7px">1</tspan>0<tspan dy="-6.5" style="font-size:13.3px">-8</tspan></text>
<text x="1476.9" y="820.8" text-anchor="end" style="font-size:16.6px;font-weight:bold;font-style:normal" fill="#000" textLength="64.2" lengthAdjust="spacingAndGlyphs"><tspan style="font-family:NanumGothic,sans-serif;font-weight:800;font-size:0.89em;stroke-width:0.7px">1</tspan>.0×<tspan style="font-family:NanumGothic,sans-serif;font-weight:800;font-size:0.89em;stroke-width:0.7px">1</tspan>0<tspan dy="-6.5" style="font-size:13.3px">-8</tspan></text>
<text x="1476.9" y="881" text-anchor="end" style="font-size:16.6px;font-weight:bold;font-style:normal" fill="#000" textLength="64.2" lengthAdjust="spacingAndGlyphs">5.0×<tspan style="font-family:NanumGothic,sans-serif;font-weight:800;font-size:0.89em;stroke-width:0.7px">1</tspan>0<tspan dy="-6.5" style="font-size:13.3px">-9</tspan></text>
<text x="1477.2" y="940.7" text-anchor="end" style="font-size:16.6px;font-weight:bold;font-style:normal" fill="#000">0.0</text>
<text x="1525.37" y="784.31" style="font-size:14.86px;font-weight:bold;font-style:normal;stroke-width:0.55px" fill="#000" textLength="12.03" lengthAdjust="spacingAndGlyphs">**</text>
<text x="1535.7" y="738.25" style="font-size:19.59px;font-weight:bold;font-style:italic" fill="#000" textLength="46.21" lengthAdjust="spacingAndGlyphs">Tfam</text>
<rect x="1752.4" y="900" width="43.6" height="32.2" fill="#00FF00"/>
<rect x="1818.6" y="831" width="43.4" height="101.2" fill="#DADBDD"/>
<line x1="1774.3" y1="900" x2="1774.3" y2="887" stroke="#55FF55" stroke-width="1.4" stroke-linecap="butt"/>
<line x1="1763.4" y1="887" x2="1785.3" y2="887" stroke="#55FF55" stroke-width="1.4" stroke-linecap="butt"/>
<line x1="1840" y1="831" x2="1840" y2="811" stroke="#444444" stroke-width="1.4" stroke-linecap="butt"/>
<line x1="1829" y1="811" x2="1851.3" y2="811" stroke="#444444" stroke-width="1.4" stroke-linecap="butt"/>
<line x1="1730.2" y1="758.4" x2="1730.2" y2="933.2" stroke="#111" stroke-width="2" stroke-linecap="butt"/>
<line x1="1723.2" y1="759.3" x2="1730.2" y2="759.3" stroke="#111" stroke-width="1.8" stroke-linecap="butt"/>
<line x1="1723.2" y1="816.93" x2="1730.2" y2="816.93" stroke="#111" stroke-width="1.8" stroke-linecap="butt"/>
<line x1="1723.2" y1="874.57" x2="1730.2" y2="874.57" stroke="#111" stroke-width="1.8" stroke-linecap="butt"/>
<line x1="1723.2" y1="932.2" x2="1730.2" y2="932.2" stroke="#111" stroke-width="1.8" stroke-linecap="butt"/>
<line x1="1723.2" y1="932.2" x2="1883.4" y2="932.2" stroke="#111" stroke-width="2" stroke-linecap="butt"/>
<line x1="1774.3" y1="932.2" x2="1774.3" y2="939.2" stroke="#111" stroke-width="1.8" stroke-linecap="butt"/>
<line x1="1840" y1="932.2" x2="1840" y2="939.2" stroke="#111" stroke-width="1.8" stroke-linecap="butt"/>
<text x="1670.28" y="765.59" text-anchor="start" style="font-size:16.48px;font-weight:bold;font-style:normal" fill="#000" textLength="51.57" lengthAdjust="spacingAndGlyphs">0.00<tspan style="font-family:NanumGothic,sans-serif;font-weight:800;font-size:0.89em;stroke-width:0.7px">1</tspan>5</text>
<text x="1670.53" y="823.22" text-anchor="start" style="font-size:16.48px;font-weight:bold;font-style:normal" fill="#000" textLength="51.57" lengthAdjust="spacingAndGlyphs">0.00<tspan style="font-family:NanumGothic,sans-serif;font-weight:800;font-size:0.89em;stroke-width:0.7px">1</tspan>0</text>
<text x="1670.28" y="880.85" text-anchor="start" style="font-size:16.48px;font-weight:bold;font-style:normal" fill="#000" textLength="51.57" lengthAdjust="spacingAndGlyphs">0.0005</text>
<text x="1670.53" y="938.49" text-anchor="start" style="font-size:16.48px;font-weight:bold;font-style:normal" fill="#000" textLength="51.57" lengthAdjust="spacingAndGlyphs">0.0000</text>
<text x="1771.68" y="882.51" style="font-size:14.86px;font-weight:bold;font-style:normal;stroke-width:0.55px" fill="#000" textLength="5.53" lengthAdjust="spacingAndGlyphs">*</text>
<text x="1767.07" y="744.65" style="font-size:18.62px;font-weight:bold;font-style:italic" fill="#000" textLength="66.72" lengthAdjust="spacingAndGlyphs">Pkm<tspan dx="-1.3" style="font-family:NanumGothic,sans-serif;font-weight:800;font-size:0.89em;stroke-width:0.7px">1</tspan>/2</text>
<text transform="translate(1396.7,635.2) rotate(-90)" style="font-size:18.5px;font-weight:bold;font-family:&quot;Noto Sans CJK JP&quot;,sans-serif" textLength="295" lengthAdjust="spacingAndGlyphs">relative expression (fold <tspan font-style="italic">18S</tspan><tspan dx="3"> RNA)</tspan></text>
<text x="1570.6" y="945.1" text-anchor="end" transform="rotate(-45 1570.6 945.1)" style="font-size:17.5px;font-weight:bold;font-style:italic" fill="#000" textLength="145.9" lengthAdjust="spacingAndGlyphs">smPit<tspan dx="-1.23" style="font-family:NanumGothic,sans-serif;font-weight:800;font-size:0.89em;stroke-width:0.7px">1</tspan><tspan dy="-6.47" style="font-size:12.6px">-/-</tspan><tspan dy="6.47">;smPit2</tspan><tspan dy="-6.47" style="font-size:12.6px">-/-</tspan></text>
<text x="1620.4" y="965" text-anchor="end" transform="rotate(-45 1620.4 965)" style="font-size:17px;font-weight:bold;font-style:italic" fill="#000">WT</text>
<text x="1810.3" y="944.5" text-anchor="end" transform="rotate(-45 1810.3 944.5)" style="font-size:17px;font-weight:bold;font-style:italic" fill="#000" textLength="135.8" lengthAdjust="spacingAndGlyphs">smPit<tspan dx="-1.19" style="font-family:NanumGothic,sans-serif;font-weight:800;font-size:0.89em;stroke-width:0.7px">1</tspan><tspan dy="-6.29" style="font-size:12.24px">-/-</tspan><tspan dy="6.29">;smPit2</tspan><tspan dy="-6.29" style="font-size:12.24px">-/-</tspan></text>
<text x="1860.4" y="963.4" text-anchor="end" transform="rotate(-45 1860.4 963.4)" style="font-size:17px;font-weight:bold;font-style:italic" fill="#000">WT</text>
</g>
</svg>
</body></html>
